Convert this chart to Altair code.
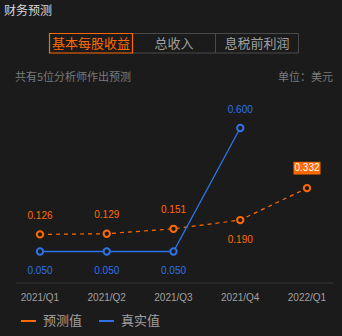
import altair as alt
import pandas as pd

# ---- data ----
quarters = ["2021/Q1", "2021/Q2", "2021/Q3", "2021/Q4", "2022/Q1"]
forecast = [0.126, 0.129, 0.151, 0.190, 0.332]
actual = [0.050, 0.050, 0.050, 0.600, None]
series_names = ["预测值", "真实值"]
tabs = ["基本每股收益", "总收入", "息税前利润"]
title_text = "财务预测"
subtitle_text = "共有5位分析师作出预测"
unit_text = "单位：美元"

# ---- styles ----
ORANGE = "#ff6a00"
BLUE = "#2f72e6"
BG = "#1b1b1b"
GREY = "#a0a0a0"
DIM = "#7a7a7a"
CJK = "Noto Sans CJK SC"
NUM = "Liberation Sans"

fc = pd.DataFrame({"q": quarters, "v": forecast, "s": series_names[0]})
ac = pd.DataFrame({"q": quarters, "v": actual, "s": series_names[1]}).dropna()

X = alt.X("q:N", scale=alt.Scale(type="point", domain=quarters, range=[40, 307], padding=0), axis=None)
Y = alt.Y("v:Q", scale=alt.Scale(domain=[0, 0.6], range=[262.7, 128], zero=False, nice=False), axis=None)

layers = []

# title / subtitle / unit
layers.append(alt.Chart(pd.DataFrame({"t": [title_text]})).mark_text(
    align="left", baseline="middle", font=CJK, fontSize=12, color="#d8d8d8"
).encode(x=alt.value(4), y=alt.value(11), text="t:N"))
layers.append(alt.Chart(pd.DataFrame({"t": [subtitle_text]})).mark_text(
    align="left", baseline="middle", font=CJK, fontSize=11, color=DIM
).encode(x=alt.value(15), y=alt.value(78), text="t:N"))
layers.append(alt.Chart(pd.DataFrame({"t": [unit_text]})).mark_text(
    align="right", baseline="middle", font=CJK, fontSize=11, color=DIM
).encode(x=alt.value(333), y=alt.value(78), text="t:N"))

# tabs
tab_left, tab_w = 49.5, 83
for i, name in enumerate(tabs):
    x0 = tab_left + i * tab_w
    active = i == 0
    if not active:
        layers.append(alt.Chart(pd.DataFrame({"a": [0]})).mark_rect(
            fill=None, stroke="#4a4a4a", strokeWidth=1
        ).encode(x=alt.value(x0), x2=alt.value(x0 + tab_w), y=alt.value(33.5), y2=alt.value(53)))
    layers.append(alt.Chart(pd.DataFrame({"t": [name]})).mark_text(
        align="center", baseline="middle", font=CJK, fontSize=13,
        color=ORANGE if active else GREY
    ).encode(x=alt.value(x0 + tab_w / 2), y=alt.value(43.5), text="t:N"))
layers.append(alt.Chart(pd.DataFrame({"a": [0]})).mark_rect(
    fill=None, stroke=ORANGE, strokeWidth=1.2
).encode(x=alt.value(tab_left), x2=alt.value(tab_left + tab_w), y=alt.value(33.5), y2=alt.value(53)))

# axis line + labels
layers.append(alt.Chart(pd.DataFrame({"a": [0]})).mark_rule(color="#363636", strokeWidth=1).encode(
    x=alt.value(16), x2=alt.value(333), y=alt.value(283)))
layers.append(alt.Chart(pd.DataFrame({"q": quarters})).mark_text(
    baseline="middle", font=NUM, fontSize=10, color=GREY
).encode(x=X, y=alt.value(297.5), text="q:N"))

# lines
layers.append(alt.Chart(fc).mark_line(color=ORANGE, strokeWidth=1.2, strokeDash=[4, 4]).encode(x=X, y=Y))
layers.append(alt.Chart(ac).mark_line(color=BLUE, strokeWidth=1.3).encode(x=X, y=Y))

# points
layers.append(alt.Chart(fc).mark_point(filled=False, fill=BG, color=ORANGE, strokeWidth=2, size=40, opacity=1).encode(x=X, y=Y))
layers.append(alt.Chart(ac).mark_point(filled=False, fill=BG, color=BLUE, strokeWidth=2, size=40, opacity=1).encode(x=X, y=Y))

LBL = 10

# forecast labels
fc_base = alt.Chart(fc)
layers.append(fc_base.transform_filter(
    alt.FieldOneOfPredicate(field="q", oneOf=quarters[:3])
).mark_text(font=NUM, fontSize=LBL, color=ORANGE, baseline="middle", dy=-18.5).encode(
    x=X, y=Y, text=alt.Text("v:Q", format=".3f")))
layers.append(fc_base.transform_filter(
    alt.FieldEqualPredicate(field="q", equal=quarters[3])
).mark_text(font=NUM, fontSize=LBL, color=ORANGE, baseline="middle", dy=20).encode(
    x=X, y=Y, text=alt.Text("v:Q", format=".3f")))
last = fc_base.transform_filter(alt.FieldEqualPredicate(field="q", equal=quarters[4]))
layers.append(last.mark_point(
    shape="M-1,-0.47L1,-0.47L1,0.47L-1,0.47Z", filled=True, color=ORANGE, opacity=1,
    size=729, yOffset=-20
).encode(x=X, y=Y))
layers.append(last.mark_text(font=NUM, fontSize=LBL, color="white", baseline="middle", dy=-20).encode(
    x=X, y=Y, text=alt.Text("v:Q", format=".3f")))

# actual labels
ac_base = alt.Chart(ac)
layers.append(ac_base.transform_filter(
    alt.FieldOneOfPredicate(field="q", oneOf=quarters[:3])
).mark_text(font=NUM, fontSize=LBL, color=BLUE, baseline="middle", dy=19.5).encode(
    x=X, y=Y, text=alt.Text("v:Q", format=".3f")))
layers.append(ac_base.transform_filter(
    alt.FieldEqualPredicate(field="q", equal=quarters[3])
).mark_text(font=NUM, fontSize=LBL, color=BLUE, baseline="middle", dy=-18).encode(
    x=X, y=Y, text=alt.Text("v:Q", format=".3f")))

# legend
for i, (name, col) in enumerate(zip(series_names, [ORANGE, BLUE])):
    x0 = 21 + i * 78
    layers.append(alt.Chart(pd.DataFrame({"a": [0]})).mark_rule(color=col, strokeWidth=2).encode(
        x=alt.value(x0), x2=alt.value(x0 + 15), y=alt.value(321)))
    layers.append(alt.Chart(pd.DataFrame({"t": [name]})).mark_text(
        align="left", baseline="middle", font=CJK, fontSize=13, color=GREY
    ).encode(x=alt.value(x0 + 22), y=alt.value(321), text="t:N"))

chart = alt.layer(*layers).properties(
    width=342, height=336, padding=0, background=BG,
    autosize=alt.AutoSizeParams(type="none")
).configure_view(stroke=None)

chart.save("out.html", embed_options={"renderer": "svg", "actions": False})
